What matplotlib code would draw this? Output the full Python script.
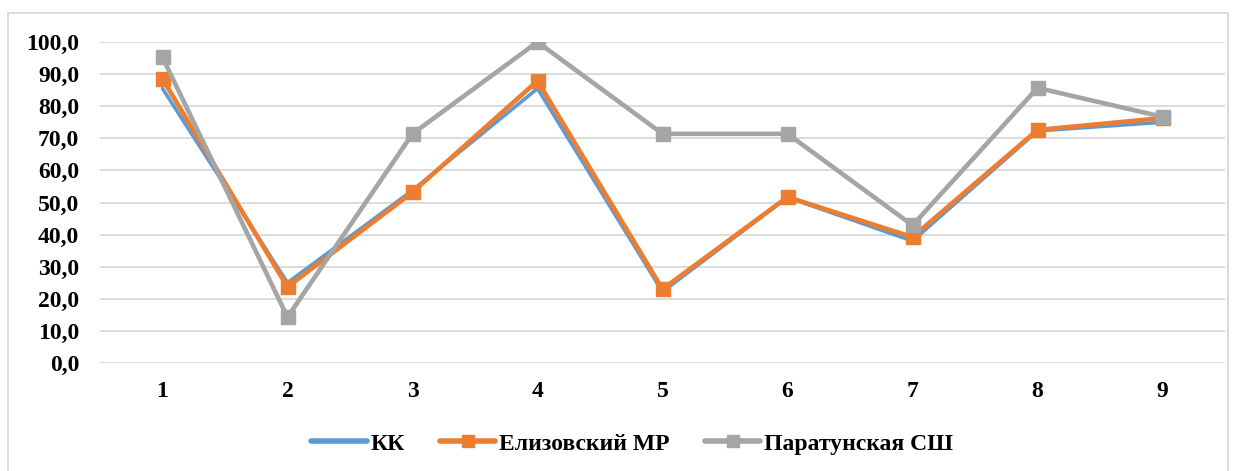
import matplotlib.pyplot as plt
from matplotlib.patches import Rectangle
from matplotlib.ticker import FuncFormatter

plt.rcParams['font.family'] = ['Liberation Serif', 'DejaVu Serif']
plt.rcParams['font.weight'] = 'bold'

categories = ['1', '2', '3', '4', '5', '6', '7', '8', '9']
kk = [85.5, 25.0, 53.8, 85.5, 22.2, 51.6, 38.0, 72.3, 75.0]
elizovo = [88.5, 23.7, 53.2, 87.9, 23.0, 51.7, 39.2, 72.6, 76.3]
paratunka = [95.2, 14.3, 71.4, 100.0, 71.4, 71.4, 42.9, 85.7, 76.7]

blue = '#5B9BD5'
orange = '#ED7D31'
gray = '#A5A5A5'

fig = plt.figure(figsize=(12.43, 4.71), dpi=100)
ax = fig.add_axes([100 / 1243, 1 - 363 / 471, 1125 / 1243, 321 / 471])

x = range(len(categories))
ax.plot(x, kk, color=blue, lw=2.6, label='КК', solid_capstyle='round')
ax.plot(x, elizovo, color=orange, lw=3.3, marker='s', ms=10,
        label='Елизовский МР', solid_capstyle='round')
ax.plot(x, paratunka, color=gray, lw=3.3, marker='s', ms=10,
        label='Паратунская СШ', solid_capstyle='round')

ax.set_xlim(-0.5, len(categories) - 0.5)
ax.set_ylim(0, 100)
ax.set_yticks(range(0, 101, 10))
ax.yaxis.set_major_formatter(FuncFormatter(lambda v, p: f'{v:.1f}'.replace('.', ',')))
ax.set_xticks(list(x))
ax.set_xticklabels(categories)
ax.tick_params(length=0, labelsize=17)
ax.tick_params(axis='y', pad=15)
ax.tick_params(axis='x', pad=13)
for lab in ax.get_xticklabels() + ax.get_yticklabels():
    lab.set_fontweight('bold')

ax.grid(axis='y', color='#D9D9D9', lw=1.3)
ax.set_axisbelow(True)
for s in ax.spines.values():
    s.set_visible(False)

leg = ax.legend(loc='center', bbox_to_anchor=(0.473, -0.252), ncol=3, frameon=False,
                prop={'weight': 'bold', 'size': 17}, handlelength=2.35,
                columnspacing=1.5, handletextpad=0.15, markerscale=0.8)
for h in leg.get_lines():
    h.set_linewidth(4)

fig.patches.append(Rectangle((8 / 1243, -0.1), 1220 / 1243, 1.1 - 13 / 471,
                             transform=fig.transFigure, fill=False,
                             edgecolor='#D9D9D9', lw=1.3))

fig.savefig('out.png', dpi=100)
